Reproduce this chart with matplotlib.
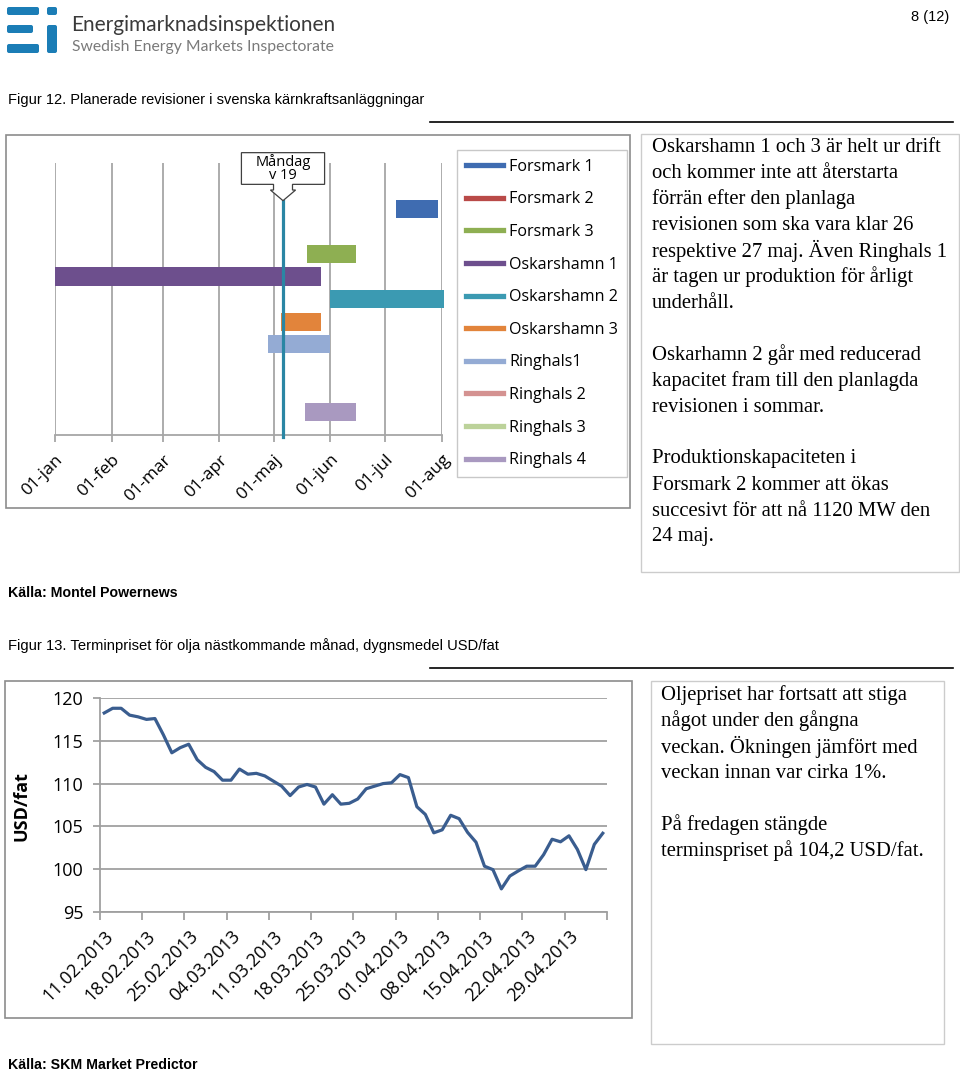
import numpy as np
import matplotlib
matplotlib.use("Agg")
import matplotlib.pyplot as plt
import matplotlib.dates as mdates
from matplotlib.lines import Line2D
from matplotlib.patches import Rectangle, FancyBboxPatch, Polygon

# --- Figur 12: planerade revisioner ---
plants = ["Forsmark 1", "Forsmark 2", "Forsmark 3", "Oskarshamn 1", "Oskarshamn 2",
          "Oskarshamn 3", "Ringhals1", "Ringhals 2", "Ringhals 3", "Ringhals 4"]
rev_start = ["2013-07-07", None, "2013-05-19", "2013-01-01", "2013-06-01",
             "2013-05-05", "2013-04-28", None, None, "2013-05-18"]
rev_end = ["2013-07-30", None, "2013-06-15", "2013-05-27", "2013-08-02",
           "2013-05-27", "2013-06-01", None, None, "2013-06-15"]
plant_colors = ["#3F6CB1", "#B94A48", "#8EAF52", "#6D4F8D", "#3B9AB2",
                "#E2843B", "#94ABD4", "#D49291", "#BCD29A", "#A999C0"]
month_ticks = ["2013-01-01", "2013-02-01", "2013-03-01", "2013-04-01",
               "2013-05-01", "2013-06-01", "2013-07-01", "2013-08-01"]
month_labels = ["01-jan", "01-feb", "01-mar", "01-apr", "01-maj", "01-jun", "01-jul", "01-aug"]
monday_w19 = "2013-05-06"

# --- Figur 13: terminpris olja, USD/fat ---
oil_price = [118.25, 118.8, 118.8, 118.0, 117.8, 117.5, 117.6, 115.7, 113.6, 114.2,
             114.6, 112.8, 111.9, 111.4, 110.4, 110.4, 111.7, 111.1, 111.2, 110.9,
             110.3, 109.7, 108.6, 109.6, 109.9, 109.6, 107.6, 108.7, 107.6, 107.7,
             108.2, 109.4, 109.7, 110.0, 110.1, 111.05, 110.7, 107.3, 106.4, 104.25,
             104.6, 106.3, 105.9, 104.3, 103.15, 100.35, 99.95, 97.7, 99.2, 99.8,
             100.35, 100.35, 101.7, 103.5, 103.2, 103.9, 102.3, 99.95, 102.9, 104.2]
oil_labels = ["11.02.2013", "18.02.2013", "25.02.2013", "04.03.2013", "11.03.2013", "18.03.2013",
              "25.03.2013", "01.04.2013", "08.04.2013", "15.04.2013", "22.04.2013", "29.04.2013"]

text_fig12 = ["Oskarshamn 1 och 3 är helt ur drift", "och kommer inte att återstarta",
              "förrän efter den planlaga", "revisionen som ska vara klar 26",
              "respektive 27 maj. Även Ringhals 1", "är tagen ur produktion för årligt",
              "underhåll.", "", "Oskarhamn 2 går med reducerad", "kapacitet fram till den planlagda",
              "revisionen i sommar.", "", "Produktionskapaciteten i", "Forsmark 2 kommer att ökas",
              "succesivt för att nå 1120 MW den", "24 maj."]
text_fig13 = ["Oljepriset har fortsatt att stiga", "något under den gångna",
              "veckan. Ökningen jämfört med", "veckan innan var cirka 1%.", "",
              "På fredagen stängde", "terminspriset på 104,2 USD/fat."]

W, H = 960, 1074
plt.rcParams["font.family"] = ["Open Sans", "DejaVu Sans"]


def box(x, y, w, h):
    # pixel box (top-left origin) -> figure fraction
    return [x / W, 1 - (y + h) / H, w / W, h / H]


fig = plt.figure(figsize=(W / 100, H / 100), dpi=100)

# page layer in pixel coordinates
page = fig.add_axes([0, 0, 1, 1], zorder=-1)
page.set_xlim(0, W)
page.set_ylim(H, 0)
page.axis("off")

# logo
logo_blue = "#1B7DB6"
for (x, y, w, h) in [(7, 7, 32, 8), (7, 25, 26, 8), (7, 44, 32, 9), (47, 7, 10, 8), (47, 25, 10, 28)]:
    page.add_patch(FancyBboxPatch((x, y), w, h, boxstyle="round,pad=0,rounding_size=2",
                                  fc=logo_blue, ec="none"))
page.text(71, 25, "Energimarknadsinspektionen", family="Lato", fontsize=15,
          color="#3A3A3A", va="center")
page.text(72, 47, "Swedish Energy Markets Inspectorate", family="Lato", fontsize=11.3,
          color="#7A7A7A", va="center")
page.text(949, 17, "8 (12)", family="Liberation Sans", fontsize=10.5, ha="right", va="center")

arial = "Liberation Sans"
page.text(8, 100, "Figur 12. Planerade revisioner i svenska kärnkraftsanläggningar",
          family=arial, fontsize=10.5, va="center")
page.plot([430, 953], [122, 122], color="black", lw=1.2)
page.text(8, 593, "Källa: Montel Powernews", family=arial, fontsize=10.2, weight="bold", va="center")
page.text(8, 646, "Figur 13. Terminpriset för olja nästkommande månad, dygnsmedel USD/fat",
          family=arial, fontsize=10.6, va="center")
page.plot([430, 953], [668, 668], color="black", lw=1.2)
page.text(8, 1065, "Källa: SKM Market Predictor", family=arial, fontsize=10.2, weight="bold", va="center")

# frames
for (x0, y0, x1, y1) in [(6, 135, 630, 508), (5, 681, 632, 1018)]:
    page.add_patch(Rectangle((x0, y0), x1 - x0, y1 - y0, fill=False, ec="#8C8C8C", lw=1.2))
for (x0, y0, x1, y1) in [(641, 134, 959, 572), (651, 681, 944, 1044)]:
    page.add_patch(Rectangle((x0, y0), x1 - x0, y1 - y0, fill=False, ec="#CCCCCC", lw=1.0))

serif = "Liberation Serif"
for i, line in enumerate(text_fig12):
    page.text(652, 147 + i * 26, line, family=serif, fontsize=14.9, va="center")
for i, line in enumerate(text_fig13):
    page.text(661, 695 + i * 26, line, family=serif, fontsize=14.9, va="center")

# --- Figur 12 chart ---
ax1 = fig.add_axes(box(55, 163.3, 386.7, 271.7))
ax1.set_facecolor("none")
rows = np.arange(len(plants), 0, -1)
for y, s, e, c in zip(rows, rev_start, rev_end, plant_colors):
    if s is None:
        continue
    x0 = mdates.date2num(np.datetime64(s))
    x1 = mdates.date2num(np.datetime64(e))
    ax1.barh(y, x1 - x0, left=x0, height=0.8, color=c, clip_on=False, zorder=3)

ticks = [mdates.date2num(np.datetime64(d)) for d in month_ticks]
ax1.set_xlim(ticks[0], ticks[-1])
ax1.set_ylim(0, 12)
ax1.set_xticks(ticks)
ax1.set_xticklabels(month_labels, rotation=45, ha="right", rotation_mode="anchor", fontsize=12.5)
ax1.set_yticks([])
ax1.grid(axis="x", color="#A6A6A6", lw=1.3, zorder=0)
for side in ["top", "right", "left"]:
    ax1.spines[side].set_visible(False)
ax1.spines["bottom"].set_color("#A6A6A6")
ax1.spines["bottom"].set_linewidth(1.3)
ax1.tick_params(axis="x", length=5, color="#A6A6A6", width=1.3, pad=7)

# Måndag v 19 marker and callout
m = mdates.date2num(np.datetime64(monday_w19))
ax1.plot([m, m], [-0.08, 10.35], color="#2A86A4", lw=2.3, clip_on=False, zorder=4)
callout = [(m - 22.8, 12.47), (m + 22.8, 12.47), (m + 22.8, 11.07), (m + 5.2, 11.07),
           (m + 5.2, 10.82), (m + 6.9, 10.82), (m, 10.35), (m - 6.9, 10.82),
           (m - 5.2, 10.82), (m - 5.2, 11.07), (m - 22.8, 11.07)]
ax1.add_patch(Polygon(callout, closed=True, fc="white", ec="#404040", lw=0.9,
                      clip_on=False, zorder=5))
ax1.text(m, 11.78, "Måndag\nv 19", ha="center", va="center", fontsize=10.5,
         linespacing=0.8, zorder=6)

handles = [Line2D([0], [0], color=c, lw=3.8) for c in plant_colors]
leg = ax1.legend(handles, plants, loc="upper left", bbox_to_anchor=(457 / W, 1 - 150 / H),
                 bbox_transform=fig.transFigure, borderaxespad=0, fontsize=11.6,
                 handlelength=2.3, handletextpad=0.4, labelspacing=1.03, borderpad=0.55,
                 fancybox=False, framealpha=1)
leg.get_frame().set_edgecolor("#C8C8C8")
leg.get_frame().set_linewidth(1.0)

# --- Figur 13 chart ---
ax2 = fig.add_axes(box(100, 698, 507, 214))
ax2.set_facecolor("none")
x = np.arange(len(oil_price))
ax2.plot(x, oil_price, color="#3A5D8F", lw=2.3, zorder=3)
ax2.set_xlim(-0.5, len(oil_price) - 0.5)
ax2.set_ylim(95, 120)
ax2.set_yticks(np.arange(95, 121, 5))
ax2.tick_params(axis="y", labelsize=13, length=5, color="#A0A0A0", width=1.3, pad=7)
ax2.yaxis.grid(True, color="#A0A0A0", lw=1.3, zorder=0)
ax2.set_xticks(np.arange(-0.5, len(oil_price), 5))
ax2.set_xticklabels([])
ax2.set_xticks(np.arange(0, len(oil_price), 5), minor=True)
ax2.set_xticklabels(oil_labels, minor=True, rotation=45, ha="right",
                    rotation_mode="anchor", fontsize=13)
ax2.tick_params(axis="x", which="major", length=6, color="#A0A0A0", width=1.3)
ax2.tick_params(axis="x", which="minor", length=0, pad=11)
for side in ["top", "right"]:
    ax2.spines[side].set_visible(False)
for side in ["left", "bottom"]:
    ax2.spines[side].set_color("#A0A0A0")
    ax2.spines[side].set_linewidth(1.3)
page.text(22, 806, "USD/fat", rotation=90, ha="center", va="center", fontsize=13, weight="bold")

fig.savefig("out.png", dpi=100)
